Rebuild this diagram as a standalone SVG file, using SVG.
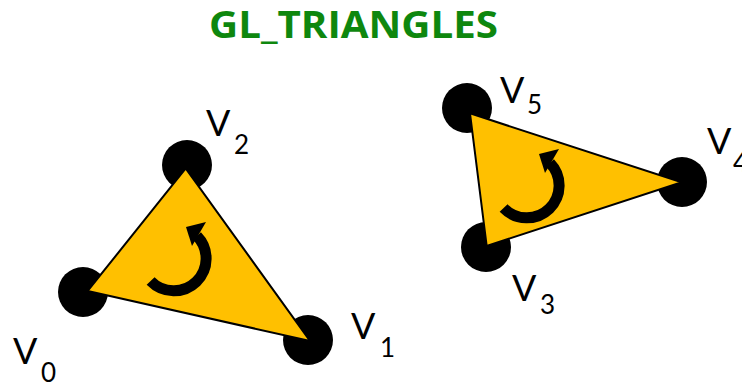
<svg xmlns="http://www.w3.org/2000/svg" width="742" height="383" viewBox="0 0 742 383">
  <defs>
    <style>
      .tri { fill: #FFC000; stroke: #000; stroke-width: 2; stroke-linejoin: miter; }
      .dot { fill: #000; }
      .lbl { font-family: Lato, "Open Sans", sans-serif; font-size: 36px; fill: #000; }
      .sub { font-family: Lato, "Open Sans", sans-serif; font-size: 26px; fill: #000; }
      .turn { fill: none; stroke: #000; stroke-width: 11; stroke-linecap: butt; }
      .head { fill: #000; }
      .title { font-family: "Open Sans", "Liberation Sans", sans-serif; font-weight: bold; font-size: 38px; fill: #0E870E; }
    </style>
    <g id="turnArrow">
      <path class="turn" d="M150.6,281 A31 31 0 0 0 197,236"/>
      <polygon class="head" points="186,227 206,222 192,246"/>
    </g>
  </defs>

  <text class="title" x="209" y="38" textLength="289" lengthAdjust="spacingAndGlyphs">GL_TRIANGLES</text>

  <g id="vertices-1">
    <g id="v0"><circle class="dot" cx="83" cy="292" r="25"/></g>
    <g id="v1"><circle class="dot" cx="308" cy="340" r="25"/></g>
    <g id="v2"><circle class="dot" cx="187" cy="165" r="25"/></g>
  </g>
  <g id="triangle-1">
    <polygon class="tri" points="87.7,291 310,341 185.7,168.3"/>
    <use href="#turnArrow"/>
  </g>

  <g id="vertices-2">
    <g id="v3"><circle class="dot" cx="486" cy="247" r="25"/></g>
    <g id="v4"><circle class="dot" cx="682" cy="182" r="25"/></g>
    <g id="v5"><circle class="dot" cx="467" cy="108" r="25"/></g>
  </g>
  <g id="triangle-2">
    <polygon class="tri" points="470,113.3 681.7,182.3 486.7,246"/>
    <use href="#turnArrow" transform="translate(353,-73)"/>
  </g>

  <g id="labels">
    <g id="label-v0"><text class="lbl" x="13" y="364">V</text><text class="sub" x="41" y="382">0</text></g>
    <g id="label-v1"><text class="lbl" x="351" y="339">V</text><text class="sub" x="380" y="357">1</text></g>
    <g id="label-v2"><text class="lbl" x="206" y="136">V</text><text class="sub" x="234" y="154">2</text></g>
    <g id="label-v3"><text class="lbl" x="512" y="301">V</text><text class="sub" x="540" y="314">3</text></g>
    <g id="label-v4"><text class="lbl" x="707" y="154">V</text><text class="sub" x="733" y="172">4</text></g>
    <g id="label-v5"><text class="lbl" x="500" y="103">V</text><text class="sub" x="527" y="114">5</text></g>
  </g>
</svg>
